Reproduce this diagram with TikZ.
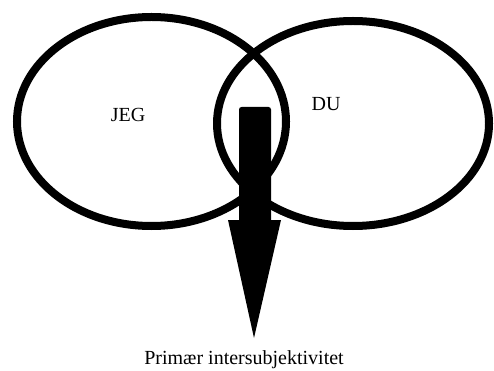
\documentclass[tikz,border=0pt]{standalone}
\usepackage{fontspec}
\setmainfont{Liberation Serif}
\usetikzlibrary{shapes.geometric}
\tikzset{
  ring/.style={draw=black, line width=8pt, ellipse, inner sep=0pt},
  lbl/.style={font=\fontsize{20}{24}\selectfont, inner sep=0pt},
}
\begin{document}
\begin{tikzpicture}[x=1pt,y=-1pt]
\useasboundingbox[fill=white] (0,0) rectangle (494,371);
\node[ring, minimum width=269pt, minimum height=209pt] (jeg) at (151.5,121.5) {};
\node[ring, minimum width=272pt, minimum height=205pt] (du) at (353,123.5) {};
\node[lbl] (jegt) at (128,115) {JEG};
\node[lbl] (dut) at (326,104) {DU};
\node[lbl] (prim) at (244,360) {Primær intersubjektivitet};
\coordinate (tip) at (254,338);
\fill[rounded corners=2.5pt] (239,223) -- (239,107) -- (271,107) -- (271,223) -- cycle;
\fill (228,220) -- (281,220) -- (tip) -- cycle;
\end{tikzpicture}
\end{document}
